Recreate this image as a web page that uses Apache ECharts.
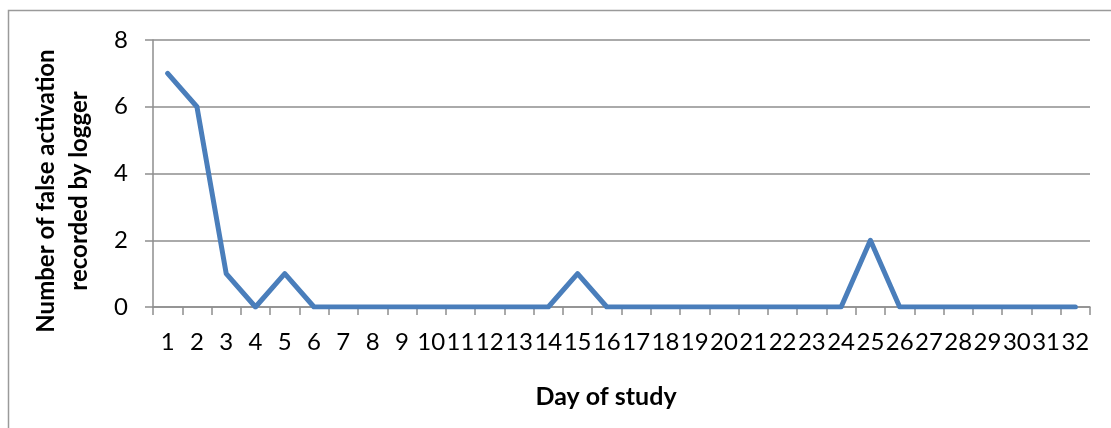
<!DOCTYPE html>
<html>
<head>
<meta charset="utf-8">
<script src="https://cdn.jsdelivr.net/npm/echarts@6/dist/echarts.min.js"></script>
<style>
  html, body { margin: 0; padding: 0; background: #ffffff; }
  #chart { width: 1111px; height: 428px; }
</style>
</head>
<body>
<div id="chart"></div>
<script>
// Days of the study (x categories)
const days = ['1','2','3','4','5','6','7','8','9','10','11','12','13','14','15','16',
              '17','18','19','20','21','22','23','24','25','26','27','28','29','30','31','32'];
// False activations recorded by the logger on each day
const falseActivations = [7, 6, 1, 0, 1, 0, 0, 0, 0, 0, 0, 0, 0, 0, 1, 0,
                          0, 0, 0, 0, 0, 0, 0, 0, 2, 0, 0, 0, 0, 0, 0, 0];
// Value axis ticks
const yTicks = [0, 2, 4, 6, 8];

const FONT = 'Lato, "Open Sans", sans-serif';
const GREY = '#8e8e8e';

const chart = echarts.init(document.getElementById('chart'), null, { renderer: 'canvas' });
chart.setOption({
  animation: false,
  backgroundColor: '#ffffff',
  grid: { left: 153, right: 21, top: 40, bottom: 121, containLabel: false },
  xAxis: {
    type: 'category',
    data: days,
    boundaryGap: true,
    axisLine: { lineStyle: { color: GREY, width: 1.5 } },
    axisTick: { show: true, length: 8, alignWithLabel: false, lineStyle: { color: GREY, width: 1.5 } },
    axisLabel: { interval: 0, margin: 23, color: '#000', fontFamily: FONT, fontSize: 24 }
  },
  yAxis: {
    type: 'value',
    min: yTicks[0],
    max: yTicks[yTicks.length - 1],
    interval: 2,
    axisLine: { show: true, lineStyle: { color: GREY, width: 1.5 } },
    axisTick: { show: true, length: 8, lineStyle: { color: GREY, width: 1.5 } },
    splitLine: { show: true, lineStyle: { color: GREY, width: 1.5 } },
    axisLabel: { margin: 25, color: '#000', fontFamily: FONT, fontSize: 24 }
  },
  series: [{
    type: 'line',
    data: falseActivations,
    showSymbol: false,
    symbol: 'none',
    lineStyle: { color: '#4a7ebb', width: 5, join: 'round', cap: 'round' },
    itemStyle: { color: '#4a7ebb' }
  }],
  graphic: [
    {
      type: 'rect',
      silent: true,
      shape: { x: 8.5, y: 10.5, width: 1300, height: 600 },
      style: { fill: 'none', stroke: '#9a9a9a', lineWidth: 1.5 }
    },
    {
      type: 'text',
      x: 63, y: 191,
      rotation: Math.PI / 2,
      style: {
        text: 'Number of false activation\nrecorded by logger',
        font: 'bold 24px ' + FONT,
        fill: '#000',
        align: 'center',
        verticalAlign: 'middle',
        lineHeight: 33
      }
    },
    {
      type: 'text',
      x: 606, y: 397,
      style: {
        text: 'Day of study',
        font: 'bold 25px ' + FONT,
        fill: '#000',
        align: 'center',
        verticalAlign: 'middle'
      }
    }
  ]
});
</script>
</body>
</html>
